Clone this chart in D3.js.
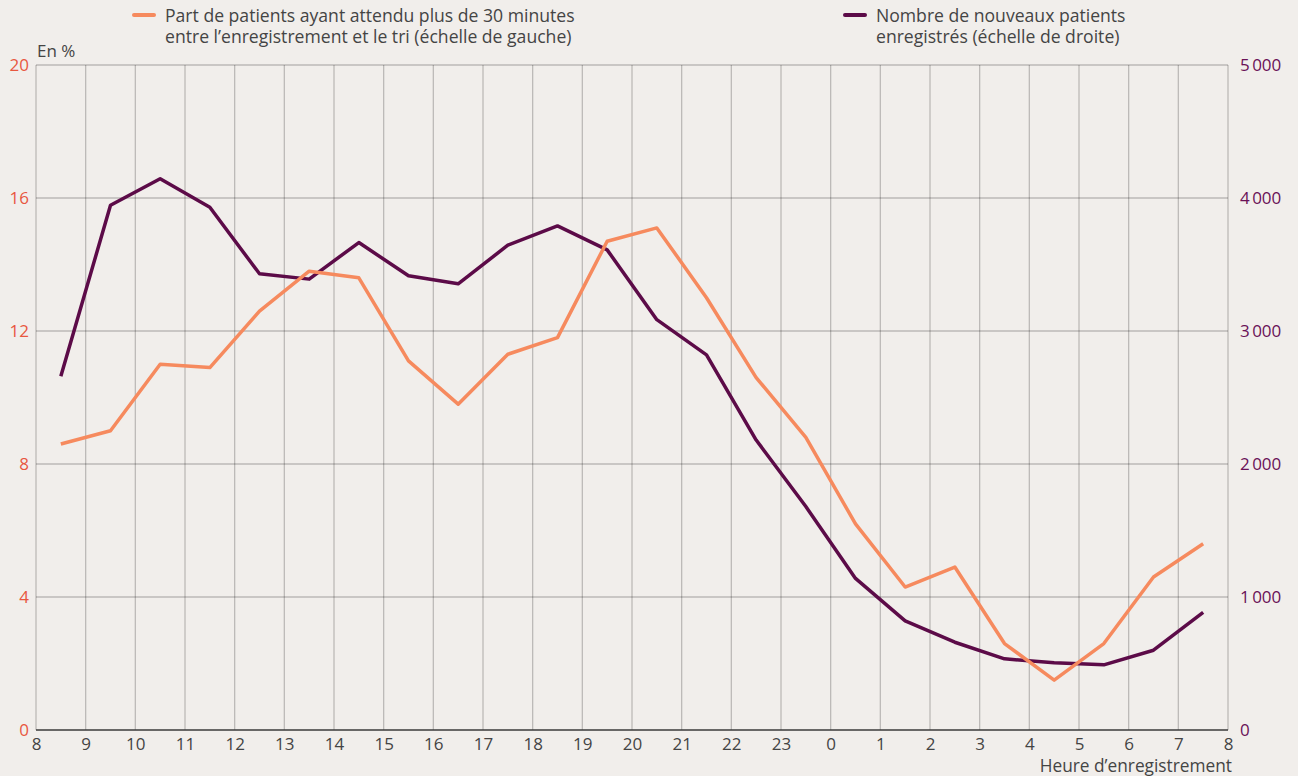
<!DOCTYPE html>
<html lang="fr">
<head>
  <meta charset="utf-8">
  <title>Attente avant le tri</title>
  <script src="https://cdn.jsdelivr.net/npm/d3@7"></script>
  <style>
    body { margin: 0; background: #f1eeeb; }
    svg { font-family: "Open Sans", "Lato", sans-serif; }
  </style>
</head>
<body>
  <svg id="chart" width="1298" height="776"></svg>
  <script>
    // hour ticks, 8h -> 8h the next day
    var hourTicks = [8, 9, 10, 11, 12, 13, 14, 15, 16, 17, 18, 19, 20, 21, 22, 23, 0, 1, 2, 3, 4, 5, 6, 7, 8];
    // points sit in the middle of each hour slot
    var slots = d3.range(24).map(function(i) { return i + 0.5; });

    // share of patients waiting > 30 min (%), left axis
    var waitShare = [8.6, 9.0, 11.0, 10.9, 12.6, 13.8, 13.6, 11.1, 9.8, 11.3, 11.8, 14.7,
                     15.1, 13.0, 10.6, 8.8, 6.2, 4.3, 4.9, 2.6, 1.5, 2.6, 4.6, 5.6];
    // new patients registered, right axis
    var newPatients = [2660, 3945, 4145, 3930, 3430, 3390, 3665, 3415, 3355, 3645, 3790, 3610,
                       3085, 2820, 2180, 1680, 1140, 820, 660, 535, 505, 490, 600, 885];

    var leftTicks = [0, 4, 8, 12, 16, 20];
    var rightTicks = [0, 1000, 2000, 3000, 4000, 5000];

    var margin = { top: 65, right: 70, bottom: 46, left: 36 };
    var width = 1298 - margin.left - margin.right;
    var height = 776 - margin.top - margin.bottom;

    var orange = "#f68a5e";
    var purple = "#5c0b48";

    var svg = d3.select("#chart");
    var g = svg.append("g")
      .attr("transform", "translate(" + margin.left + "," + margin.top + ")");

    var x = d3.scaleLinear().domain([0, 24]).range([0, width]);
    var yL = d3.scaleLinear().domain([0, 20]).range([height, 0]);
    var yR = d3.scaleLinear().domain([0, 5000]).range([height, 0]);

    // vertical grid
    g.append("g")
      .selectAll("line")
      .data(d3.range(25))
      .enter().append("line")
      .attr("x1", function(d) { return x(d); })
      .attr("x2", function(d) { return x(d); })
      .attr("y1", 0)
      .attr("y2", height)
      .attr("stroke", "#000")
      .attr("stroke-opacity", 0.22)
      .attr("stroke-width", 1.3);

    // horizontal grid
    g.append("g")
      .selectAll("line")
      .data(leftTicks.slice(1))
      .enter().append("line")
      .attr("x1", 0)
      .attr("x2", width)
      .attr("y1", function(d) { return yL(d); })
      .attr("y2", function(d) { return yL(d); })
      .attr("stroke", "#000")
      .attr("stroke-opacity", 0.22)
      .attr("stroke-width", 1.3);

    // baseline
    g.append("line")
      .attr("x1", 0).attr("x2", width)
      .attr("y1", height).attr("y2", height)
      .attr("stroke", "#3a3a3a")
      .attr("stroke-width", 1.5);

    // x axis
    var xAxis = g.append("g")
      .attr("transform", "translate(0," + height + ")")
      .call(d3.axisBottom(x)
        .tickValues(d3.range(25))
        .tickFormat(function(d) { return hourTicks[d]; })
        .tickSize(0)
        .tickPadding(8));
    xAxis.select(".domain").remove();
    xAxis.selectAll("text")
      .attr("font-size", 17)
      .attr("fill", "#444")
      .attr("font-family", "'Open Sans', sans-serif");

    // left axis
    var leftAxis = g.append("g")
      .call(d3.axisLeft(yL).tickValues(leftTicks).tickSize(0).tickPadding(7));
    leftAxis.select(".domain").remove();
    leftAxis.selectAll("text")
      .attr("font-size", 17)
      .attr("fill", "#e8573f")
      .attr("font-family", "'Open Sans', sans-serif");

    // right axis
    var rightAxis = g.append("g")
      .attr("transform", "translate(" + width + ",0)")
      .call(d3.axisRight(yR)
        .tickValues(rightTicks)
        .tickSize(0)
        .tickPadding(12)
        .tickFormat(function(d) { return d3.format(",")(d).replace(",", " "); }));
    rightAxis.select(".domain").remove();
    rightAxis.selectAll("text")
      .attr("font-size", 17)
      .attr("fill", "#6a1157")
      .attr("font-family", "'Open Sans', sans-serif")
      .attr("word-spacing", -2);

    // axis titles
    svg.append("text")
      .attr("x", 37).attr("y", 57)
      .attr("font-size", 17).attr("fill", "#444")
      .text("En %");
    svg.append("text")
      .attr("x", margin.left + width + 4).attr("y", 772)
      .attr("text-anchor", "end")
      .attr("font-size", 17.3).attr("fill", "#444")
      .text("Heure d\u2019enregistrement");

    // lines
    var lineL = d3.line()
      .x(function(d, i) { return x(slots[i]); })
      .y(function(d) { return yL(d); });
    var lineR = d3.line()
      .x(function(d, i) { return x(slots[i]); })
      .y(function(d) { return yR(d); });

    g.append("path")
      .datum(newPatients)
      .attr("d", lineR)
      .attr("fill", "none")
      .attr("stroke", purple)
      .attr("stroke-width", 3.5)
      .attr("stroke-linejoin", "round");

    g.append("path")
      .datum(waitShare)
      .attr("d", lineL)
      .attr("fill", "none")
      .attr("stroke", orange)
      .attr("stroke-width", 3.5)
      .attr("stroke-linejoin", "round");

    // legend
    var legend = [
      { x: 134, color: orange, lines: ["Part de patients ayant attendu plus de 30 minutes", "entre l\u2019enregistrement et le tri (\u00e9chelle de gauche)"] },
      { x: 845, color: purple, lines: ["Nombre de nouveaux patients", "enregistr\u00e9s (\u00e9chelle de droite)"] }
    ];
    var lg = svg.selectAll(".legend")
      .data(legend)
      .enter().append("g")
      .attr("class", "legend")
      .attr("transform", function(d) { return "translate(" + d.x + ",0)"; });
    lg.append("line")
      .attr("x1", 0).attr("x2", 20)
      .attr("y1", 15).attr("y2", 15)
      .attr("stroke", function(d) { return d.color; })
      .attr("stroke-width", 4)
      .attr("stroke-linecap", "round");
    lg.append("text")
      .attr("x", 31)
      .attr("font-size", 17.6)
      .attr("fill", "#444")
      .selectAll("tspan")
      .data(function(d) { return d.lines; })
      .enter().append("tspan")
      .attr("x", 31)
      .attr("y", function(d, i) { return 22 + i * 21; })
      .text(function(d) { return d; });
  </script>
</body>
</html>
